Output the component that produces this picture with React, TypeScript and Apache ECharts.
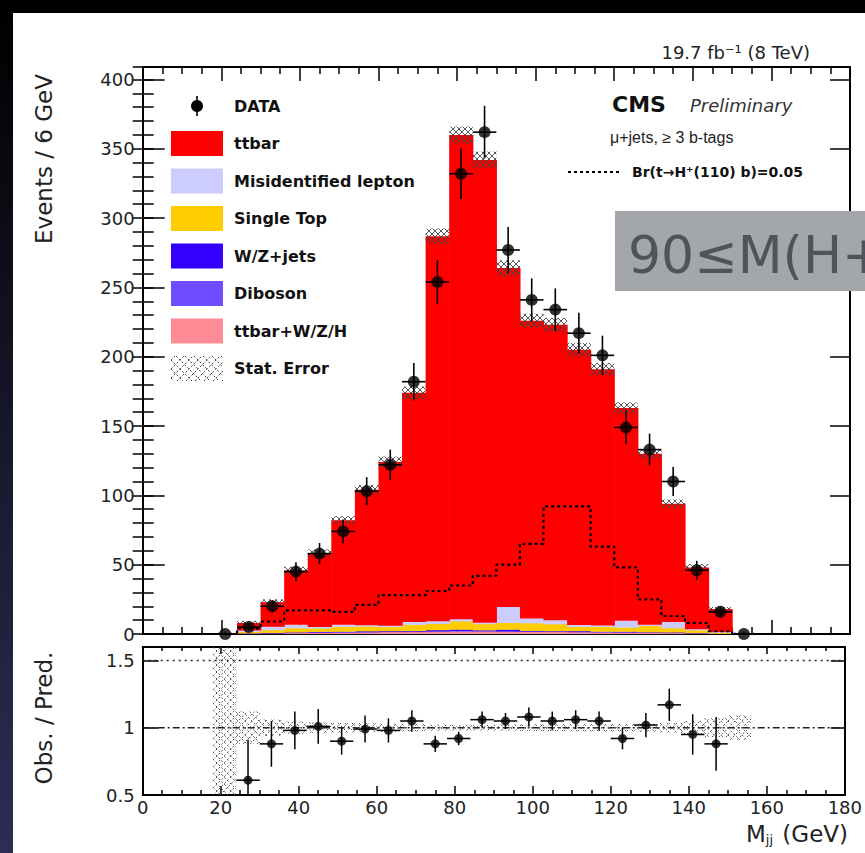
import React, { useEffect, useRef } from "react";
import * as echarts from "echarts";

// ---------------- data: 6 GeV bins (lower edges) ----------------
const binLow = [18, 24, 30, 36, 42, 48, 54, 60, 66, 72, 78, 84, 90, 96, 102, 108, 114, 120, 126, 132, 138, 144, 150];
const binWidth = 6;

const ttbarVals = [0.5, 5.3, 17.6, 39.2, 52.8, 75.2, 97.4, 117.8, 165.2, 277.6, 349.2, 333.7, 244.3, 214.6, 212.8, 198.3, 184.7, 153.2, 123.1, 85.2, 44.4, 16.4, 0.5];
const misidVals = [0, 1.0, 2.5, 2.5, 1.0, 1.5, 1.0, 1.0, 2.0, 2.0, 1.5, 1.0, 11.5, 3.5, 3.0, 1.5, 1.0, 5.0, 1.0, 4.5, 0.8, 0.5, 0];
const singleTopVals = [0, 1.2, 2.0, 3.0, 2.5, 3.5, 3.5, 3.0, 4.5, 4.5, 6.0, 4.5, 5.0, 5.5, 5.0, 3.0, 3.5, 3.0, 4.5, 3.0, 2.0, 0.8, 0];
const wzJetsVals = [0, 0.2, 0.3, 0.4, 0.5, 0.4, 0.6, 0.5, 0.5, 0.8, 1.0, 0.6, 1.2, 0.5, 0.4, 0.6, 0.3, 0.5, 0.3, 0.4, 0.2, 0.1, 0];
const dibosonVals = [0, 0, 0.1, 0.1, 0.2, 0.2, 0.2, 0.2, 0.3, 0.3, 0.3, 0.2, 0.2, 0.2, 0.2, 0.2, 0.2, 0.1, 0.1, 0.1, 0.1, 0, 0];
const ttVVals = [0, 0.3, 0.5, 0.8, 1.0, 1.2, 1.3, 1.5, 1.5, 1.8, 2.0, 2.0, 1.8, 1.7, 1.6, 1.4, 1.3, 1.2, 1.0, 0.8, 0.5, 0.2, 0];
const mcStatErr = [0.5, 1.5, 2, 2.5, 3, 3, 3.5, 4, 4.5, 5.5, 6, 6, 5.5, 5, 5, 5, 4.5, 4, 3.5, 3, 2.5, 1.5, 0.5];

const dataVals = [0, 5, 20, 45, 58, 74, 103, 122, 182, 254, 332, 362, 277, 241, 234, 217, 201, 149, 133, 110, 46, 16, 0];
const dataErr = [1.8, 2.2, 4.5, 6.7, 7.6, 8.6, 10.1, 11, 13.5, 15.9, 18.2, 19, 16.6, 15.5, 15.3, 14.7, 14.2, 12.2, 11.5, 10.5, 6.8, 4, 1.8];

const signalVals = [0, 4, 9, 17, 17, 16, 21, 28, 28, 31, 35, 42, 50, 65, 92, 92, 63, 48, 25, 13, 8, 2, 0];

const ratioVals = [null, 0.61, 0.88, 0.98, 1.01, 0.9, 0.99, 0.98, 1.05, 0.88, 0.92, 1.06, 1.05, 1.08, 1.05, 1.06, 1.05, 0.92, 1.02, 1.17, 0.95, 0.88, null];
const ratioErr = [null, 0.3, 0.17, 0.14, 0.13, 0.1, 0.1, 0.09, 0.08, 0.06, 0.05, 0.06, 0.06, 0.07, 0.07, 0.07, 0.07, 0.08, 0.09, 0.12, 0.15, 0.2, null];
const ratioBandErr = [1.0, 0.12, 0.06, 0.045, 0.04, 0.035, 0.033, 0.03, 0.027, 0.022, 0.02, 0.02, 0.022, 0.024, 0.025, 0.026, 0.027, 0.028, 0.03, 0.035, 0.05, 0.07, 0.09];

const mainYTicks = { min: 0, max: 409, interval: 50, minorInterval: 10 };
const ratioYTicks = { min: 0.5, max: 1.6, interval: 0.5 };
const xRange = { min: 0, max: 180, interval: 20 };

// stack order (bottom -> top)
const components = [
  { name: "ttbar+W/Z/H", vals: ttVVals, color: "#ff8c94" },
  { name: "Diboson", vals: dibosonVals, color: "#6e4dff" },
  { name: "W/Z+jets", vals: wzJetsVals, color: "#3300ff" },
  { name: "Single Top", vals: singleTopVals, color: "#ffcc00" },
  { name: "Misidentified lepton", vals: misidVals, color: "#ccccff" },
  { name: "ttbar", vals: ttbarVals, color: "#ff0000" },
];
const legendOrder = ["ttbar", "Misidentified lepton", "Single Top", "W/Z+jets", "Diboson", "ttbar+W/Z/H"];

const FONT = "DejaVu Sans";

function hatchSegments(x0: number, y0: number, w: number, h: number, s: number) {
  const segs: number[][] = [];
  if (w <= 0 || h <= 0) return segs;
  const a1 = Math.ceil((x0 - y0 - h) / s), b1 = Math.floor((x0 - y0 + w) / s);
  for (let K = a1; K <= b1; K++) {
    const c = K * s - x0 + y0;
    const t0 = Math.max(0, -c), t1 = Math.min(h, w - c);
    if (t1 > t0) segs.push([x0 + c + t0, y0 + t0, x0 + c + t1, y0 + t1]);
  }
  const a2 = Math.ceil((x0 + y0) / s), b2 = Math.floor((x0 + y0 + h + w) / s);
  for (let K = a2; K <= b2; K++) {
    const c = K * s - x0 - y0 - h;
    const t0 = Math.max(0, -c), t1 = Math.min(h, w - c);
    if (t1 > t0) segs.push([x0 + c + t0, y0 + h - t0, x0 + c + t1, y0 + h - t1]);
  }
  return segs;
}

function clampY(y: number, cs: any) {
  return Math.max(cs.y, Math.min(cs.y + cs.height, y));
}

function buildOption() {
  const totals = binLow.map((_, i) => components.reduce((s, c) => s + c.vals[i], 0));

  const stackSeries: any[] = [];
  const cum = binLow.map(() => 0);
  components.forEach((comp) => {
    const data = binLow.map((lo, i) => {
      const base = cum[i];
      cum[i] += comp.vals[i];
      return [lo, lo + binWidth, base, cum[i]];
    });
    stackSeries.push({
      type: "custom",
      name: comp.name,
      xAxisIndex: 0,
      yAxisIndex: 0,
      z: 2,
      clip: true,
      data,
      renderItem: (params: any, api: any) => {
        const lo = api.value(0), hi = api.value(1), b = api.value(2), t = api.value(3);
        if (t - b <= 0) return null;
        const p1 = api.coord([lo, t]);
        const p2 = api.coord([hi, b]);
        return {
          type: "rect",
          shape: { x: p1[0], y: p1[1], width: p2[0] - p1[0] + 0.6, height: p2[1] - p1[1] + 0.3 },
          style: { fill: comp.color },
        };
      },
    });
  });

  const hatchRender = (stroke: string, lw: number, dash: number[] | null, spacing: number) => (params: any, api: any) => {
    const lo = api.value(0), hi = api.value(1), b = api.value(2), t = api.value(3);
    const cs = params.coordSys;
    const p1 = api.coord([lo, t]);
    const p2 = api.coord([hi, b]);
    const y0 = clampY(p1[1], cs), y1 = clampY(p2[1], cs);
    const segs = hatchSegments(p1[0], y0, p2[0] - p1[0], y1 - y0, spacing);
    return {
      type: "group",
      children: segs.map((s) => ({
        type: "line",
        shape: { x1: s[0], y1: s[1], x2: s[2], y2: s[3] },
        style: { stroke, lineWidth: lw, lineDash: dash || undefined },
      })),
    };
  };

  const mainBand = {
    type: "custom",
    name: "Stat. Error",
    xAxisIndex: 0,
    yAxisIndex: 0,
    z: 3,
    data: binLow.map((lo, i) => [lo, lo + binWidth, Math.max(0, totals[i] - mcStatErr[i]), totals[i] + mcStatErr[i]]),
    renderItem: hatchRender("#444", 0.9, null, 6),
  };

  const signalPts = binLow.map((lo, i) => [lo, signalVals[i]]);
  signalPts.push([binLow[binLow.length - 1] + binWidth, 0]);
  const signalSeries = {
    type: "line",
    name: "signal",
    xAxisIndex: 0,
    yAxisIndex: 0,
    z: 4,
    step: "end",
    symbol: "none",
    data: signalPts,
    lineStyle: { color: "#000", width: 2.2, type: [3, 3] },
  };

  const errRender = (lw: number) => (params: any, api: any) => {
    const cs = params.coordSys;
    const cx = api.value(0), v = api.value(1), lo = api.value(2), hi = api.value(3);
    const pT = api.coord([cx, hi]);
    const pB = api.coord([cx, lo]);
    const pL = api.coord([cx - binWidth / 2, v]);
    const pR = api.coord([cx + binWidth / 2, v]);
    return {
      type: "group",
      children: [
        { type: "line", shape: { x1: pT[0], y1: clampY(pT[1], cs), x2: pB[0], y2: clampY(pB[1], cs) }, style: { stroke: "#000", lineWidth: lw } },
        { type: "line", shape: { x1: pL[0], y1: pL[1], x2: pR[0], y2: pR[1] }, style: { stroke: "#000", lineWidth: lw } },
      ],
    };
  };

  const dataErrSeries = {
    type: "custom",
    name: "DATA err",
    xAxisIndex: 0,
    yAxisIndex: 0,
    z: 5,
    data: binLow.map((lo, i) => [lo + binWidth / 2, dataVals[i], Math.max(0, dataVals[i] - dataErr[i]), dataVals[i] + dataErr[i]]),
    renderItem: errRender(1.6),
  };
  const dataSeries = {
    type: "scatter",
    name: "DATA",
    xAxisIndex: 0,
    yAxisIndex: 0,
    z: 6,
    symbol: "circle",
    symbolSize: 12,
    itemStyle: { color: "#000" },
    data: binLow.map((lo, i) => [lo + binWidth / 2, dataVals[i]]),
  };

  // ratio panel
  const ratioBand = {
    type: "custom",
    name: "ratio band",
    xAxisIndex: 2,
    yAxisIndex: 4,
    z: 3,
    data: binLow.map((lo, i) => [lo, lo + binWidth, 1 - ratioBandErr[i], 1 + ratioBandErr[i]]),
    renderItem: hatchRender("#555", 1, [2, 2], 7),
  };
  const ratioIdx = binLow.map((_, i) => i).filter((i) => ratioVals[i] !== null);
  const ratioErrSeries = {
    type: "custom",
    name: "ratio err",
    xAxisIndex: 2,
    yAxisIndex: 4,
    z: 5,
    data: ratioIdx.map((i) => [binLow[i] + binWidth / 2, ratioVals[i], (ratioVals[i] as number) - (ratioErr[i] as number), (ratioVals[i] as number) + (ratioErr[i] as number)]),
    renderItem: errRender(1.5),
  };
  const ratioSeries = {
    type: "scatter",
    name: "ratio",
    xAxisIndex: 2,
    yAxisIndex: 4,
    z: 6,
    symbol: "circle",
    symbolSize: 9,
    itemStyle: { color: "#000" },
    data: ratioIdx.map((i) => [binLow[i] + binWidth / 2, ratioVals[i]]),
  };
  const refLine = (y: number, type: any) => ({
    type: "line",
    xAxisIndex: 2,
    yAxisIndex: 4,
    z: 2,
    symbol: "none",
    data: [[xRange.min, y], [xRange.max, y]],
    lineStyle: { color: "#222", width: 1.5, type },
  });

  const axisLine = { show: true, onZero: false, lineStyle: { color: "#000", width: 2 } };
  const tickStyle = { color: "#000", width: 1.5 };

  const mkX = (gridIndex: number, position: string, labels: boolean, major: number, minor: number) => ({
    type: "value",
    gridIndex,
    position,
    min: xRange.min,
    max: xRange.max,
    interval: xRange.interval,
    axisLine,
    axisTick: { show: true, inside: true, length: major, lineStyle: tickStyle },
    minorTick: { show: true, splitNumber: 4, length: minor, lineStyle: tickStyle },
    axisLabel: { show: labels, fontFamily: FONT, fontSize: 18, color: "#222", margin: 3 },
    splitLine: { show: false },
    minorSplitLine: { show: false },
  });

  const mkY = (gridIndex: number, position: string, rng: any, interval: number, labels: boolean, len: number, line: boolean) => ({
    type: "value",
    gridIndex,
    position,
    min: rng.min,
    max: rng.max,
    interval,
    axisLine: line ? axisLine : { show: false },
    axisTick: { show: true, inside: true, length: len, lineStyle: tickStyle },
    axisLabel: { show: labels, showMaxLabel: false, fontFamily: FONT, fontSize: 18, color: "#222", margin: 8 },
    splitLine: { show: false },
  });

  // ---- graphics: frame decorations, legend, texts ----
  const g: any[] = [];
  g.push({ type: "rect", shape: { x: 0, y: 0, width: 865, height: 13 }, style: { fill: "#000" }, z: 50 });
  g.push({
    type: "rect",
    shape: { x: 0, y: 0, width: 13, height: 853 },
    style: { fill: new echarts.graphic.LinearGradient(0, 0, 0, 1, [{ offset: 0, color: "#000000" }, { offset: 1, color: "#2d2d55" }]) },
    z: 50,
  });

  // legend
  const legX = 171, legW = 52, legH = 25, legTextX = 234, legY0 = 106, legDy = 37.5;
  g.push({ type: "line", shape: { x1: legX + legW / 2, y1: legY0 - 10, x2: legX + legW / 2, y2: legY0 + 10 }, style: { stroke: "#000", lineWidth: 1.6 }, z: 20 });
  g.push({ type: "circle", shape: { cx: legX + legW / 2, cy: legY0, r: 6 }, style: { fill: "#000" }, z: 20 });
  g.push({ type: "text", x: legTextX, y: legY0, style: { text: "DATA", fontFamily: FONT, fontWeight: "bold", fontSize: 16, fill: "#111", verticalAlign: "middle" }, z: 20 });
  legendOrder.forEach((name, i) => {
    const comp = components.find((c) => c.name === name)!;
    const cy = legY0 + legDy * (i + 1);
    g.push({ type: "rect", shape: { x: legX, y: cy - legH / 2, width: legW, height: legH }, style: { fill: comp.color }, z: 20 });
    g.push({ type: "text", x: legTextX, y: cy, style: { text: name, fontFamily: FONT, fontWeight: "bold", fontSize: 16, fill: "#111", verticalAlign: "middle" }, z: 20 });
  });
  const statY = legY0 + legDy * 7;
  hatchSegments(legX, statY - legH / 2, legW, legH, 9).forEach((s) => {
    g.push({ type: "line", shape: { x1: s[0], y1: s[1], x2: s[2], y2: s[3] }, style: { stroke: "#444", lineWidth: 1, lineDash: [2, 2] }, z: 20 });
  });
  g.push({ type: "text", x: legTextX, y: statY, style: { text: "Stat. Error", fontFamily: FONT, fontWeight: "bold", fontSize: 16, fill: "#111", verticalAlign: "middle" }, z: 20 });

  // top-right texts
  g.push({ type: "text", x: 810, y: 52, style: { text: "19.7 fb⁻¹ (8 TeV)", fontFamily: FONT, fontSize: 18, fill: "#222", align: "right", verticalAlign: "middle" }, z: 20 });
  g.push({ type: "text", x: 612, y: 104, style: { text: "CMS", fontFamily: FONT, fontWeight: "bold", fontSize: 22, fill: "#111", verticalAlign: "middle" }, z: 20 });
  g.push({ type: "text", x: 690, y: 105, style: { text: "Preliminary", fontFamily: FONT, fontStyle: "italic", fontSize: 18, fill: "#333", verticalAlign: "middle" }, z: 20 });
  g.push({ type: "text", x: 610, y: 137, style: { text: "μ+jets, ≥ 3 b-tags", fontFamily: "Liberation Sans", fontSize: 16, fill: "#222", verticalAlign: "middle" }, z: 20 });
  g.push({ type: "line", shape: { x1: 568, y1: 172, x2: 620, y2: 172 }, style: { stroke: "#000", lineWidth: 2, lineDash: [3, 3] }, z: 20 });
  g.push({ type: "text", x: 632, y: 172, style: { text: "Br(t→H⁺(110) b)=0.05", fontFamily: FONT, fontWeight: "bold", fontSize: 14, fill: "#111", verticalAlign: "middle" }, z: 20 });

  // axis titles
  g.push({ type: "text", x: 44, y: 159, rotation: Math.PI / 2, style: { text: "Events / 6 GeV", fontFamily: FONT, fontSize: 23, fill: "#222", align: "center", verticalAlign: "middle" }, z: 20 });
  g.push({ type: "text", x: 44, y: 718, rotation: Math.PI / 2, style: { text: "Obs. / Pred.", fontFamily: FONT, fontSize: 23, fill: "#222", align: "center", verticalAlign: "middle" }, z: 20 });
  g.push({
    type: "text",
    x: 848,
    y: 834,
    style: {
      text: "{m|M}{s|jj}{m| (GeV)}",
      align: "right",
      verticalAlign: "middle",
      rich: {
        m: { fontFamily: FONT, fontSize: 23, fill: "#222", lineHeight: 24, verticalAlign: "middle" },
        s: { fontFamily: FONT, fontSize: 13, fill: "#222", lineHeight: 24, verticalAlign: "bottom", padding: [0, 2, 0, 0] },
      },
    },
    z: 20,
  });

  // grey overlay box
  g.push({ type: "rect", shape: { x: 615, y: 211, width: 260, height: 80 }, style: { fill: "#a3a6aa" }, z: 100 });
  g.push({ type: "text", x: 628, y: 255, style: { text: "90≤M(H+)", fontFamily: FONT, fontSize: 52, fill: "#4f535a", verticalAlign: "middle" }, z: 101 });

  return {
    animation: false,
    backgroundColor: "#ffffff",
    grid: [
      { left: 142.7, top: 67, width: 707.3, height: 567 },
      { left: 142.7, top: 647, width: 707.3, height: 148 },
    ],
    xAxis: [
      mkX(0, "bottom", false, 14, 7),
      mkX(0, "top", false, 14, 7),
      mkX(1, "bottom", true, 9, 5),
      mkX(1, "top", false, 7, 4),
    ],
    yAxis: [
      mkY(0, "left", mainYTicks, mainYTicks.interval, true, 22, true),
      mkY(0, "left", mainYTicks, mainYTicks.minorInterval, false, 11, false),
      mkY(0, "right", mainYTicks, mainYTicks.interval, false, 20, true),
      mkY(0, "right", mainYTicks, mainYTicks.minorInterval, false, 10, false),
      mkY(1, "left", ratioYTicks, ratioYTicks.interval, true, 16, true),
      mkY(1, "right", ratioYTicks, ratioYTicks.interval, false, 14, true),
    ],
    series: [
      ...stackSeries,
      mainBand,
      signalSeries,
      dataErrSeries,
      dataSeries,
      refLine(1.5, [2, 4]),
      refLine(1.0, [7, 3, 2, 3]),
      ratioBand,
      ratioErrSeries,
      ratioSeries,
    ],
    graphic: g,
  };
}

export default function App() {
  const ref = useRef<HTMLDivElement>(null);
  useEffect(() => {
    if (!ref.current) return;
    const chart = echarts.init(ref.current, undefined, { renderer: "svg" });
    chart.setOption(buildOption() as any);
    return () => chart.dispose();
  }, []);
  return (
    <div
      ref={ref}
      style={{ position: "fixed", left: 0, top: 0, width: 865, height: 853, background: "#fff" }}
    />
  );
}
